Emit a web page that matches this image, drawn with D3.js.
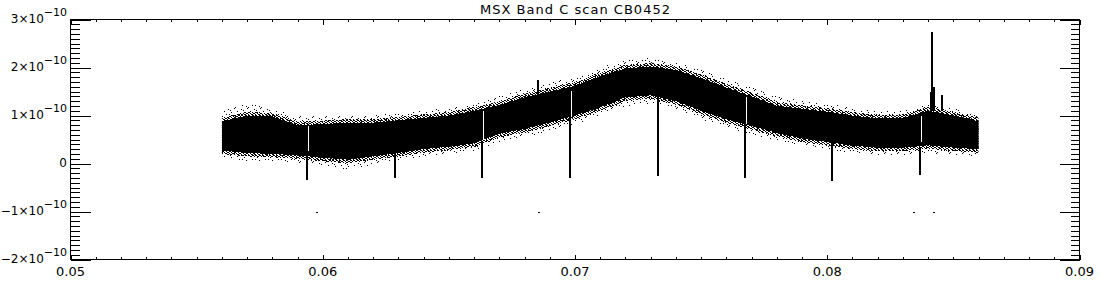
<!DOCTYPE html>
<html>
<head>
<meta charset="utf-8">
<script src="https://cdn.jsdelivr.net/npm/d3@7"></script>
<style>
  body { margin: 0; background: #fff; }
  text { font-family: "DejaVu Sans", sans-serif; fill: #000; }
</style>
</head>
<body>
<div id="chart-area"></div>
<script>
// band, values in units of 1e-10
const scanX = [0.056, 0.057, 0.058, 0.059, 0.060, 0.061, 0.062, 0.063, 0.064, 0.065, 0.066,
  0.067, 0.068, 0.069, 0.070, 0.071, 0.072, 0.073, 0.074, 0.075, 0.076, 0.077, 0.078,
  0.079, 0.080, 0.081, 0.082, 0.083, 0.084, 0.085, 0.086]
const coreTop = [0.88, 1.0, 0.98, 0.8, 0.82, 0.85, 0.85, 0.9, 0.95, 1.0, 1.1,
  1.22, 1.38, 1.5, 1.62, 1.82, 1.98, 2.02, 1.95, 1.78, 1.58, 1.4, 1.2,
  1.14, 1.08, 1.0, 0.94, 0.95, 1.1, 1.0, 0.88]
const coreBottom = [0.27, 0.22, 0.2, 0.17, 0.12, 0.08, 0.15, 0.22, 0.3, 0.35, 0.42,
  0.62, 0.72, 0.85, 1.0, 1.17, 1.38, 1.42, 1.3, 1.1, 0.92, 0.78, 0.64,
  0.52, 0.45, 0.37, 0.33, 0.33, 0.38, 0.33, 0.3]
const fringeTop = [1.1, 1.25, 1.15, 0.98, 0.98, 1.0, 1.0, 1.05, 1.1, 1.15, 1.25,
  1.4, 1.55, 1.68, 1.8, 2.0, 2.15, 2.2, 2.1, 1.95, 1.75, 1.58, 1.4,
  1.3, 1.25, 1.15, 1.1, 1.1, 1.25, 1.15, 1.0]
const fringeBottom = [0.12, 0.05, 0.05, 0.02, -0.05, -0.12, -0.02, 0.08, 0.15, 0.2, 0.27,
  0.45, 0.55, 0.68, 0.82, 1.0, 1.2, 1.25, 1.12, 0.92, 0.75, 0.6, 0.48,
  0.37, 0.3, 0.22, 0.18, 0.18, 0.22, 0.18, 0.15]

// downward calibration spikes
const dipX = [0.05938, 0.06286, 0.06631, 0.06980, 0.07329, 0.07674, 0.08019, 0.08368]
const dipFrom = [0.17, 0.22, 0.45, 0.98, 1.42, 0.85, 0.45, 0.35]
const dipTo = [-0.35, -0.3, -0.3, -0.31, -0.25, -0.31, -0.37, -0.23]

// white gaps in the band
const gapX = [0.05938, 0.06631, 0.06980, 0.07674, 0.08368]
const gapTop = [0.79, 1.10, 1.52, 1.38, 1.0]
const gapBottom = [0.27, 0.48, 0.96, 0.83, 0.44]

// upward spikes
const peakX = [0.06853, 0.08410, 0.08417, 0.08424, 0.08455]
const peakFrom = [1.38, 1.1, 1.1, 1.1, 1.1]
const peakTo = [1.73, 1.5, 2.73, 1.6, 1.42]

// stray points
const strayX = [0.05974, 0.06853, 0.08340, 0.08419]
const strayY = [-1.0, -1.0, -1.0, -1.0]

const xTicks = [0.05, 0.06, 0.07, 0.08, 0.09]
const yTicks = [-2, -1, 0, 1, 2, 3]
const UNIT = 1e-10

const W = 1100, H = 300
const PLOT = { LEFT: 70.5, RIGHT: 1079.5, TOP: 19.5, BOTTOM: 259.5 }

const svg = d3.select('#chart-area').append('svg')
  .attr('width', W)
  .attr('height', H)
  .attr('shape-rendering', 'crispEdges')

const x = d3.scaleLinear().domain([0.05, 0.09]).range([PLOT.LEFT, PLOT.RIGHT])
const y = d3.scaleLinear().domain([-2 * UNIT, 3 * UNIT]).range([PLOT.BOTTOM, PLOT.TOP])

// speckle textures for the noisy edges (fixed dot layouts, style only)
const defs = svg.append('defs')
function speckle(id, w, h, dots) {
  const p = defs.append('pattern')
    .attr('id', id)
    .attr('patternUnits', 'userSpaceOnUse')
    .attr('width', w)
    .attr('height', h)
  p.selectAll('rect').data(dots).enter().append('rect')
    .attr('x', d => d[0]).attr('y', d => d[1])
    .attr('width', 1).attr('height', 1)
    .attr('fill', '#000')
}
speckle('sparse', 13, 9, [[0, 0], [7, 1], [3, 3], [10, 4], [5, 6], [12, 7], [1, 8], [8, 6], [9, 2]])
speckle('dense', 7, 5, [[0, 0], [1, 0], [3, 0], [5, 1], [6, 1], [2, 1], [0, 2], [3, 2], [4, 2],
  [1, 3], [2, 3], [5, 3], [6, 4], [3, 4], [0, 4], [4, 0]])

// keep the band's ends square
const x0 = x(d3.min(scanX)), x1 = x(d3.max(scanX))
defs.append('clipPath').attr('id', 'scan-clip')
  .append('rect')
  .attr('x', x0).attr('y', PLOT.TOP)
  .attr('width', x1 - x0).attr('height', PLOT.BOTTOM - PLOT.TOP)

const band = scanX.map((d, i) => ({
  x: d, t: coreTop[i], b: coreBottom[i], ft: fringeTop[i], fb: fringeBottom[i]
}))

const fringeArea = d3.area()
  .x(d => x(d.x))
  .y0(d => y(d.fb * UNIT))
  .y1(d => y(d.ft * UNIT))
const coreArea = d3.area()
  .x(d => x(d.x))
  .y0(d => y(d.b * UNIT))
  .y1(d => y(d.t * UNIT))

const gBand = svg.append('g').attr('clip-path', 'url(#scan-clip)')
gBand.append('path').datum(band)
  .attr('d', fringeArea)
  .attr('fill', 'url(#sparse)')
gBand.append('path').datum(band)
  .attr('d', coreArea)
  .attr('fill', '#000')
  .attr('stroke', 'url(#dense)')
  .attr('stroke-width', 7)

// dips
svg.selectAll('.dip').data(dipX).enter().append('rect')
  .attr('class', 'dip')
  .attr('x', d => Math.round(x(d)) - 1)
  .attr('y', (d, i) => y(dipFrom[i] * UNIT))
  .attr('width', 2)
  .attr('height', (d, i) => y(dipTo[i] * UNIT) - y(dipFrom[i] * UNIT))
  .attr('fill', '#000')

// gaps
svg.selectAll('.gap').data(gapX).enter().append('rect')
  .attr('class', 'gap')
  .attr('x', d => Math.round(x(d)) + 1)
  .attr('y', (d, i) => y(gapTop[i] * UNIT))
  .attr('width', 1)
  .attr('height', (d, i) => y(gapBottom[i] * UNIT) - y(gapTop[i] * UNIT))
  .attr('fill', '#fff')

// peaks
svg.selectAll('.peak').data(peakX).enter().append('rect')
  .attr('class', 'peak')
  .attr('x', d => Math.round(x(d)) - 1)
  .attr('y', (d, i) => y(peakTo[i] * UNIT))
  .attr('width', 2)
  .attr('height', (d, i) => y(peakFrom[i] * UNIT) - y(peakTo[i] * UNIT))
  .attr('fill', '#000')

// stray points
svg.selectAll('.stray').data(strayX).enter().append('rect')
  .attr('class', 'stray')
  .attr('x', d => Math.round(x(d)))
  .attr('y', (d, i) => Math.round(y(strayY[i] * UNIT)))
  .attr('width', 2)
  .attr('height', 1)
  .attr('fill', '#000')

// frame
svg.append('rect')
  .attr('x', PLOT.LEFT).attr('y', PLOT.TOP)
  .attr('width', PLOT.RIGHT - PLOT.LEFT)
  .attr('height', PLOT.BOTTOM - PLOT.TOP)
  .attr('fill', 'none')
  .attr('stroke', '#000')

// ticks, IDL style: pointing inward on all four sides
const xMinor = d3.range(0, 41).map(i => 0.05 + i * 0.001)
const yMinor = d3.range(0, 51).map(i => (-2 + i * 0.1) * UNIT)

const bottomAxis = d3.axisBottom(x).tickValues(xMinor).tickSize(-2.5).tickFormat('')
const topAxis = d3.axisTop(x).tickValues(xMinor).tickSize(-2.5).tickFormat('')
const bottomMajor = d3.axisBottom(x).tickValues(xTicks).tickSize(-5).tickFormat('')
const topMajor = d3.axisTop(x).tickValues(xTicks).tickSize(-5).tickFormat('')
const leftAxis = d3.axisLeft(y).tickValues(yMinor).tickSize(-9).tickFormat('')
const rightAxis = d3.axisRight(y).tickValues(yMinor).tickSize(-9).tickFormat('')
const leftMajor = d3.axisLeft(y).tickValues(yTicks.map(d => d * UNIT)).tickSize(-20).tickFormat('')
const rightMajor = d3.axisRight(y).tickValues(yTicks.map(d => d * UNIT)).tickSize(-20).tickFormat('')

const axes = [
  [bottomAxis, `translate(0,${PLOT.BOTTOM})`], [bottomMajor, `translate(0,${PLOT.BOTTOM})`],
  [topAxis, `translate(0,${PLOT.TOP})`], [topMajor, `translate(0,${PLOT.TOP})`],
  [leftAxis, `translate(${PLOT.LEFT},0)`], [leftMajor, `translate(${PLOT.LEFT},0)`],
  [rightAxis, `translate(${PLOT.RIGHT},0)`], [rightMajor, `translate(${PLOT.RIGHT},0)`]
]
axes.forEach(([ax, tr]) => {
  const g = svg.append('g').attr('transform', tr).call(ax)
  g.select('.domain').remove()
  g.selectAll('line').attr('stroke', '#000')
})

// x tick labels
svg.selectAll('.xlab').data(xTicks).enter().append('text')
  .attr('class', 'xlab')
  .attr('x', d => x(d))
  .attr('y', 276)
  .attr('text-anchor', 'middle')
  .attr('font-size', '13px')
  .text(d => d3.format('.2f')(d))

// y tick labels
const ylab = svg.selectAll('.ylab').data(yTicks).enter().append('text')
  .attr('class', 'ylab')
  .attr('x', 67)
  .attr('y', d => y(d * UNIT) + 3)
  .attr('text-anchor', 'end')
  .attr('font-size', '12px')
ylab.each(function (d) {
  const t = d3.select(this)
  if (d === 0) {
    t.text('0')
    return
  }
  t.append('tspan').text((d < 0 ? '\u2212' : '') + Math.abs(d) + '\u00d710')
  t.append('tspan').attr('dy', -7).attr('font-size', '11px').text('\u221210')
})

// title
svg.append('text')
  .attr('x', (PLOT.LEFT + PLOT.RIGHT) / 2)
  .attr('y', 14)
  .attr('text-anchor', 'middle')
  .attr('font-size', '13px')
  .attr('textLength', 190)
  .text('MSX Band C scan CB0452')
</script>
</body>
</html>
